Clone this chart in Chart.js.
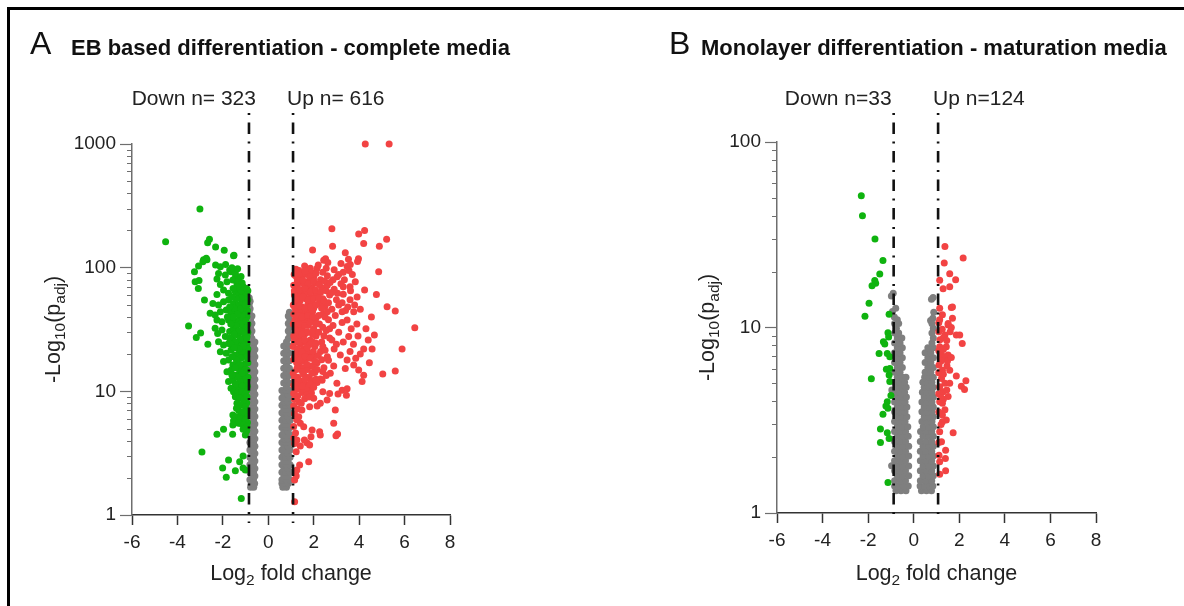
<!DOCTYPE html>
<html>
<head>
<meta charset="utf-8">
<script src="https://cdn.jsdelivr.net/npm/chart.js@4.4.1/dist/chart.umd.min.js"></script>
<style>
  html, body { margin: 0; padding: 0; background: #fff; }
  #wrap { position: relative; width: 1184px; height: 606px; overflow: hidden; }
  #frame { position: absolute; left: 7px; top: 7px; width: 1400px; height: 800px;
           border-top: 3px solid #000; border-left: 3px solid #000; }
  canvas { position: absolute; top: 0; }
  #volcA { left: 0; }
  #volcB { left: 592px; }
</style>
</head>
<body>
<div id="wrap">
  <div id="frame"></div>
  <canvas id="volcA" width="592" height="606"></canvas>
  <canvas id="volcB" width="592" height="606"></canvas>
</div>
<script>
// x ticks and y decades
const xTicks = [-6, -4, -2, 0, 2, 4, 6, 8];
const yMajorA = [1, 10, 100, 1000];
const yMajorB = [1, 10, 100];

// fold-change cut-offs
const cutsA = [-0.85, 1.09];
const cutsB = [-0.88, 1.07];

// EB based differentiation: [log2FC, -log10(padj)]
const downA = [
  [-4.52,162],[-3.01,298],[-2.67,159],[-2.59,170],[-2.32,147],[-1.94,138],[-1.51,126],[-2.73,119],[-2.85,116],
  [-2.70,115.8],[-2.88,111.7],[-3.07,103],[-2.32,104.9],[-2.11,101.8],[-1.88,106.2],[-1.70,95.7],[-2.19,89.9],
  [-1.89,87.1],[-1.53,124.8],[-1.64,92.7],[-1.44,84.5],[-3.25,92.7],[-3.05,78.9],[-3.22,76.9],[-3.08,68],
  [-2.26,80.9],[-2.11,73.2],[-1.82,76.9],[-1.56,79.4],[-1.38,74.6],[-1.23,72.3],[-1.97,65.9],[-1.75,62],
  [-1.45,63.9],[-1.16,68],[-1.31,60.1],[-2.26,60.8],[-1.09,58.2],[-1.01,63.9],[-2.81,54.7],[-2.44,51.4],
  [-2.19,49.9],[-1.97,53.1],[-1.75,54.7],[-1.53,51.4],[-1.31,49.9],[-1.16,53.1],[-1.01,54.7],[-2.56,42.7],
  [-2.34,41.4],[-2.11,44],[-1.85,45.4],[-1.64,42.7],[-1.41,44],[-1.23,41.4],[-1.06,45.4],[-0.94,49.9],
  [-2.26,37.7],[-2.04,36.5],[-1.75,37.7],[-1.53,36.5],[-1.31,37.7],[-1.09,37.7],[-0.94,40.1],[-3.51,33.7],
  [-2.98,29.6],[-3.17,27.2],[-2.66,24],[-2.34,32.3],[-2.23,29.4],[-2.04,31.3],[-1.89,27.7],[-1.70,30.4],
  [-1.53,32.3],[-1.35,28.5],[-1.16,31.3],[-1.01,33.3],[-0.94,27.7],[-2.19,25.2],[-1.97,23.7],[-1.75,24.4],
  [-1.56,26],[-1.38,23],[-1.20,25.2],[-1.06,22.2],[-0.94,24.4],[-2.11,20.9],[-1.85,20.3],[-1.64,21.6],
  [-1.45,19.7],[-1.26,20.3],[-1.09,19.1],[-0.94,20.9],[-1.97,17.4],[-1.75,17.9],[-1.56,16.3],[-1.38,17.4],
  [-1.20,15.8],[-1.01,16.8],[-1.82,14.4],[-1.63,14.9],[-1.45,13.5],[-1.26,14.4],[-1.09,13.1],[-0.94,14.9],
  [-1.75,12],[-1.56,12.3],[-1.38,11.2],[-1.20,11.6],[-1.01,10.9],[-0.94,12.3],[-1.64,10.6],[-1.45,10.3],[-1.16,10.1],
  [-0.9,35],[-0.92,45],[-1.0,42],[-1.12,47],[-0.9,30],[-1.05,29],[-0.98,25],[-1.12,26],[-0.9,22],[-1.02,19.5],
  [-1.15,21],[-0.9,17],[-1.1,16],[-1.05,14],[-0.9,13],[-1.2,13.5],[-1.1,12],[-0.92,11],[-1.3,11],[-1.0,10.5],
  [-0.9,55],[-0.95,58],[-1.05,62],[-0.9,65],[-1.2,65],[-1.1,70],[-1.3,78],[-1.45,90],[-1.2,85],[-1.6,100],[-1.35,98],
  [-0.95,68],[-1.15,75],[-1.35,70],[-1.55,68],[-1.0,50],[-1.2,57],[-1.4,56],[-1.6,58],[-1.25,46],[-1.5,47],
  [-1.7,48],[-1.15,40],[-1.35,42],[-1.55,40],[-1.8,40],[-1.0,37],[-1.22,35],[-1.42,34],[-1.65,35],[-1.1,30],
  [-1.3,31],[-1.5,29],[-1.7,27],[-0.95,27],[-1.25,26.5],[-1.45,25],[-1.65,24],[-1.1,23],[-1.3,22],[-1.5,22.5],
  [-0.95,19],[-1.2,18.5],[-1.4,18],[-1.6,19],[-1.0,15],[-1.25,16.5],[-1.45,15.5],[-1.15,14],[-1.35,13],
  [-1.6,13.5],[-1.0,12.5],[-1.25,12],[-1.45,11.5],[-0.95,10.2],[-1.15,11],[-1.3,10],[-1.05,8.9],[-1.2,9.3],
  [-0.95,8.1],[-1.15,7.8],[-1.3,7],[-1.0,6.5],[-1.2,6.5],[-0.92,5.6],[-1.2,5.5],[-0.95,4.8],
  [-1.53,9.9],[-1.35,9.75],[-1.16,9.9],[-1.01,9.5],[-1.45,9.05],[-1.26,8.8],[-1.09,8.5],[-0.94,9.05],[-1.38,8.0],
  [-1.23,7.76],[-1.01,7.5],[-1.4,7.3],[-0.94,7.06],[-1.11,6.84],[-1.56,6.43],[-1.41,6.24],[-1.23,6.04],[-1.01,5.93],
  [-1.53,5.79],[-1.31,5.51],[-1.09,5.34],[-0.94,5.18],[-1.56,5.34],[-1.11,4.93],[-1.01,4.43],[-1.57,4.49],
  [-1.97,4.93],[-2.26,4.49],[-2.92,3.23],[-1.11,3.0],[-1.75,2.78],[-1.26,2.70],[-2.01,2.40],[-1.11,2.40],
  [-1.01,2.31],[-1.45,2.28],[-1.85,2.02],[-1.19,1.36]
];
const upA = [
  [4.27,1000],[5.32,1000],[2.8,206],[4.24,200],[3.98,187],[5.21,170],[4.2,157],[2.83,149],[4.89,149],[1.95,139],
  [3.39,132],[2.52,118],[3.53,117],[3.97,118],
  [4.86,92.7],[4.76,60.8],[5.23,48.3],[5.59,44.6],[6.45,32.7],[5.89,22],[5.59,14.6],[5.04,13.8],[4.57,22],[4.2,22],
  [4.67,28.5],[4.54,40],[4.24,65.9],[3.83,76.9],[3.93,112],[3.47,102],[3.61,106],[3.3,92],[3.03,84.5],[2.44,115],
  [2.62,110],[2.15,98.7],[1.85,98.7],[1.48,84.5],[1.3,74],[3.91,58],[3.76,44],[3.47,37.7],[3.54,27.7],[3.17,19.7],
  [3.47,17.9],[3.39,15.3],[3.76,16.3],[3.98,14.9],[4.2,13.5],[4.13,12],[2.88,16],[2.73,14],[2.37,12.3],[3.02,11.6],
  [3.25,10.2],[3.47,10.5],
  [3.2,108],[3.55,95],[3.7,88],[3.35,80],[3.62,65],[3.3,70],[3.05,62],[3.6,55],[3.25,52],[3.8,50],[4.05,46],
  [3.4,45],[3.9,35],[3.65,32],[3.25,36],[3.95,28],[3.3,25],[3.75,24],[4.3,32],[4.05,20],[3.6,21],[3.85,18.5],
  [4.45,17],[4.4,26],
  [1.35,95],[1.6,103],[1.9,92],[2.2,105],[2.55,99],[2.9,96],
  [1.2,86],[1.45,82],[1.7,88],[2.0,84],[2.3,80],[2.6,86],[2.85,80],[3.1,88],
  [1.12,72],[1.3,68],[1.55,74],[1.8,70],[2.05,75],[2.35,69],[2.6,72],[2.9,67],[3.2,74],[3.6,70],
  [1.15,60],[1.35,57],[1.6,62],[1.85,58],[2.1,61],[2.4,56],[2.7,60],[3.0,55],[3.3,61],
  [1.1,50],[1.3,52],[1.5,48],[1.75,51],[2.0,47],[2.25,52],[2.5,49],[2.8,46],[3.1,50],[3.5,48],
  [1.12,42],[1.35,44],[1.6,40],[1.85,43],[2.1,39],[2.4,42],[2.65,38],[2.95,41],[3.25,44],
  [1.1,35],[1.3,33],[1.5,36],[1.75,34],[2.0,32],[2.25,35],[2.55,31],[2.85,34],[3.1,30],
  [1.12,28],[1.35,27],[1.6,29],[1.85,26],[2.1,28],[2.35,25],[2.7,27],[3.0,24],
  [1.1,23],[1.3,21],[1.55,22],[1.8,20],[2.05,23],[2.3,21],[2.6,19],[2.9,22],
  [1.12,18],[1.35,16.5],[1.6,17.5],[1.85,16],[2.15,17],[2.45,15.5],[2.65,17.8],
  [1.1,14],[1.3,13],[1.55,13.8],[1.8,12.8],[2.05,14.2],[2.3,12.6],[2.55,13.4],
  [1.12,11.2],[1.35,10.8],[1.6,11.5],[1.9,10.6],[2.15,11.8],
  [1.15,65],[1.2,55],[1.25,47],[1.18,38],[1.22,31],[1.15,25],[1.2,19.5],[1.25,15],[1.17,12.3],[1.4,38],[1.45,30],
  [1.42,24],[1.4,19],[1.45,60],[1.5,42],[1.28,80],[1.22,92],
  [1.22,97],[1.52,90],[1.78,78],[1.25,62],[1.5,66],[1.72,64],[1.95,68],[1.4,54],[1.65,56],[1.9,53],[1.2,44],
  [1.48,46],[1.72,45],[1.95,44],[1.25,38],[1.62,37],[1.88,38],[1.2,31],[1.48,32],[1.7,30],[1.95,29],[1.25,25],
  [1.5,25.5],[1.72,24],[1.95,25],[1.22,20],[1.48,19.5],[1.7,21],[1.95,19],[1.25,17],[1.5,15.5],[1.72,15],
  [1.98,15.8],[1.22,12.8],[1.45,12],[1.7,13],[1.95,12.2],[1.25,10.4],[1.5,10.3],[1.75,11],
  [1.14,88],[1.38,90],[1.62,94],[1.86,85],[2.1,90],[2.4,92],
  [1.28,76],[1.52,79],[1.76,74],[2.0,78],[2.24,73],[2.48,78],[2.72,76],
  [1.16,64],[1.38,66],[1.62,68],[1.86,64],[2.08,66],[2.3,63],[2.55,65],[2.8,63],
  [1.28,55],[1.52,58],[1.76,55],[2.0,56],[2.22,57],[2.45,54],[2.65,52],
  [1.16,48],[1.38,49],[1.62,47],[1.86,48],[2.1,50],[2.35,47],[2.6,44],
  [1.28,41],[1.5,40],[1.74,41],[1.98,40],[2.22,41],[2.5,40],
  [1.16,36],[1.38,35],[1.6,34],[1.84,36],[2.1,35],[2.4,33],[2.7,32],
  [1.28,30],[1.5,29],[1.74,30],[1.98,31],[2.22,30],[2.45,28],
  [1.16,26.5],[1.38,25],[1.6,26],[1.84,24],[2.1,24.5],[2.4,23],[2.8,26],
  [1.28,22],[1.5,21],[1.72,22.5],[1.98,21],[2.2,19.5],[2.5,21.5],
  [1.16,19],[1.38,18],[1.62,19],[1.85,18.5],[2.05,17.5],[2.35,18],
  [1.28,15.5],[1.5,14.5],[1.7,16.5],[1.92,14],[2.15,15],[2.4,14.5],
  [1.16,13],[1.38,12.2],[1.62,12.5],[1.85,11.5],[2.1,12.5],
  [1.28,11.2],[1.5,11],[1.7,10.2],[2.0,10.8],
  [1.16,1.28],[1.26,2.31],[1.23,2.07],[1.16,1.92],[1.19,2.17],[1.38,2.54],[1.78,2.7],[1.23,3.25],[1.41,3.61],
  [1.16,3.79],[1.26,4.04],[1.70,3.84],[1.82,3.68],[1.59,4.04],[1.93,4.86],[2.26,4.71],[2.29,4.43],[1.88,4.3],
  [2.88,5.51],[3.05,4.52],[2.98,4.38],[2.95,7.06],[2.59,8.5],[3.07,9.5],[3.44,9.3],[2.15,7.6],[1.82,7.5],
  [2.29,8.0],[1.41,5.51],[1.56,5.18],[1.34,6.24],[1.48,7.06],
  [1.12,9.6],[1.3,9.2],[1.5,9.8],[1.7,9.4],[1.9,9.7],[1.15,8.6],[1.35,8.2],[1.6,8.7],[1.12,7.6],[1.3,7.2],
  [1.15,6.6],[1.25,5.9],[1.12,5.2],[1.2,4.6],[1.12,4.2],[1.8,9.0],[2.0,8.8],[1.45,8.0],[2.4,9.9],[2.7,9.6]
];
const flatA = [
  [-0.78,1.68],[-0.64,1.68],[0.64,1.68],[0.8,1.68],
  [-0.74,1.8],[-0.6,1.8],[0.6,1.8],[0.74,1.8],[0.88,1.8],
  [-0.81,1.93],[-0.65,1.93],[0.6,1.93],[0.78,1.93],[0.96,1.93],
  [-0.73,2.07],[-0.59,2.07],[0.69,2.07],[0.87,2.07],
  [-0.81,2.22],[-0.65,2.22],[0.6,2.22],[0.78,2.22],[0.96,2.22],
  [-0.73,2.38],[-0.59,2.38],[0.69,2.38],[0.87,2.38],
  [-0.81,2.55],[-0.65,2.55],[0.6,2.55],[0.78,2.55],[0.96,2.55],
  [-0.73,2.73],[-0.59,2.73],[0.69,2.73],[0.87,2.73],
  [-0.81,2.93],[-0.65,2.93],[0.6,2.93],[0.78,2.93],[0.96,2.93],
  [-0.73,3.14],[-0.59,3.14],[0.69,3.14],[0.87,3.14],
  [-0.81,3.36],[-0.65,3.36],[0.6,3.36],[0.78,3.36],[0.96,3.36],
  [-0.73,3.6],[-0.59,3.6],[0.69,3.6],[0.87,3.6],
  [-0.81,3.86],[-0.65,3.86],[0.6,3.86],[0.78,3.86],[0.96,3.86],
  [-0.73,4.14],[-0.59,4.14],[0.69,4.14],[0.87,4.14],
  [-0.81,4.43],[-0.65,4.43],[0.6,4.43],[0.78,4.43],[0.96,4.43],
  [-0.73,4.75],[-0.59,4.75],[0.69,4.75],[0.87,4.75],
  [-0.81,5.09],[-0.65,5.09],[0.6,5.09],[0.78,5.09],[0.96,5.09],
  [-0.73,5.45],[-0.59,5.45],[0.69,5.45],[0.87,5.45],
  [-0.81,5.84],[-0.65,5.84],[0.6,5.84],[0.78,5.84],[0.96,5.84],
  [-0.73,6.26],[-0.59,6.26],[0.69,6.26],[0.87,6.26],
  [-0.81,6.71],[-0.65,6.71],[0.6,6.71],[0.78,6.71],[0.96,6.71],
  [-0.73,7.19],[-0.59,7.19],[0.69,7.19],[0.87,7.19],
  [-0.81,7.7],[-0.65,7.7],[0.6,7.7],[0.78,7.7],[0.96,7.7],
  [-0.73,8.25],[-0.59,8.25],[0.69,8.25],[0.87,8.25],
  [-0.81,8.84],[-0.65,8.84],[0.6,8.84],[0.78,8.84],[0.96,8.84],
  [-0.73,9.47],[-0.59,9.47],[0.69,9.47],[0.87,9.47],
  [-0.81,10.15],[-0.65,10.15],[0.6,10.15],[0.78,10.15],[0.96,10.15],
  [-0.73,10.9],[-0.59,10.9],[0.8,10.9],
  [-0.81,11.7],[-0.65,11.7],[0.68,11.7],[0.93,11.7],
  [-0.73,12.5],[-0.59,12.5],[0.8,12.5],
  [-0.81,13.4],[-0.65,13.4],[0.68,13.4],[0.93,13.4],
  [-0.73,14.4],[-0.59,14.4],[0.8,14.4],
  [-0.81,15.4],[-0.65,15.4],[0.68,15.4],[0.93,15.4],
  [-0.73,16.5],[-0.59,16.5],[0.8,16.5],
  [-0.81,17.7],[-0.65,17.7],[0.68,17.7],[0.93,17.7],
  [-0.73,19.0],[-0.59,19.0],[0.8,19.0],
  [-0.81,20.3],[-0.65,20.3],[0.68,20.3],[0.93,20.3],
  [-0.73,21.8],[-0.59,21.8],[0.8,21.8],
  [-0.81,23.3],[-0.65,23.3],[0.68,23.3],[0.93,23.3],
  [-0.73,25.0],[-0.59,25.0],[0.8,25.0],
  [-0.83,26.8],[-0.72,26.8],[0.88,26.8],
  [-0.78,28.7],[0.95,28.7],
  [-0.83,30.8],[-0.72,30.8],[0.88,30.8],
  [-0.78,33.0],[0.95,33.0],
  [-0.83,35.3],[-0.72,35.3],[0.88,35.3],
  [-0.78,37.9],[0.95,37.9],
  [-0.83,40.6],[-0.72,40.6],[0.88,40.6],
  [-0.84,43.5],[0.93,43.5],
  [-0.8,46.6],[-0.84,50],[-0.8,53.5],[-0.84,57]
];

// Monolayer differentiation: [log2FC, -log10(padj)]
const downB = [
  [-2.30,51.3],[-2.25,40.0],[-1.70,30.0],[-1.35,23.0],[-1.49,19.4],[-1.71,17.9],[-1.67,17.3],[-1.83,16.8],
  [-1.96,13.5],[-2.14,11.5],[-1.08,11.8],[-1.13,9.38],[-1.33,8.38],[-1.27,8.15],[-1.52,7.24],[-1.16,7.24],
  [-1.05,6.95],[-1.20,5.95],[-1.05,6.01],[-1.86,5.30],[-1.08,5.55],[-1.05,5.11],[-1.16,3.98],[-1.22,3.78],
  [-1.13,3.67],[-1.35,3.41],[-1.46,2.84],[-1.16,2.71],[-1.08,2.52],[-1.46,2.40],[-1.13,1.46],[-1.1,8.9],[-1.0,4.3]
];
const upB = [
  [1.37,27.3],[2.17,23.7],[1.34,22.3],[1.58,19.5],[1.84,18.1],[1.14,18.0],[1.58,16.6],[1.29,16.2],[1.70,12.9],
  [1.65,12.8],[1.14,12.7],[1.26,11.7],[1.14,11.0],[1.70,11.2],[1.51,10.3],[1.65,10.0],[1.1,10.6],
  [1.51,10.5],[1.87,9.1],[2.02,9.1],[1.37,9.1],[2.13,8.2],[1.14,7.87],[1.43,7.87],[1.51,7.1],[1.22,7.1],
  [1.37,6.95],[1.11,6.27],[1.46,6.2],[1.26,5.89],[1.58,5.89],[1.87,5.47],[2.29,5.16],[2.09,4.83],[2.23,4.63],
  [1.22,5.31],[1.37,5.0],[1.58,5.0],[1.14,4.8],[1.29,4.51],[1.51,4.24],[1.14,3.98],[1.26,3.9],[1.37,3.6],
  [1.26,3.37],[1.43,3.17],[1.26,3.1],[1.73,2.71],[1.14,2.74],[1.22,2.42],[1.40,2.18],[1.11,2.05],[1.39,1.97],
  [1.14,1.89],[1.40,1.69],[1.14,1.62],
  [1.1,9.5],[1.15,8.6],[1.1,7.5],[1.2,6.6],[1.1,5.7],[1.3,5.6],[1.1,4.4],[1.3,4.1],[1.1,3.5],[1.2,3.0],[1.1,2.4],
  [1.25,9.8],[1.3,8.8],[1.45,8.5],[1.6,9.5],[1.3,7.6],[1.48,6.6],[1.65,6.9],[1.2,4.2],[1.45,4.6]
];
const flatB = [
  [-0.9,15.3],[-0.98,14.8],[-0.79,12.7],[-0.93,12.2],[-0.85,11.4],[-0.72,11],[0.85,14.5],[0.78,14.2],
  [0.88,12.1],[0.84,11.2],[0.74,10.9],[-0.97,1.8],[-0.96,4.6],
  [-0.78,1.32],[-0.56,1.32],[-0.34,1.32],[0.34,1.32],[0.56,1.32],[0.78,1.32],
  [-0.84,1.40],[-0.66,1.40],[-0.45,1.40],[-0.24,1.40],[0.28,1.40],[0.48,1.40],[0.68,1.40],[0.84,1.40],
  [-0.84,1.49],[-0.59,1.49],[-0.36,1.49],[0.29,1.49],[0.54,1.49],[0.79,1.49],
  [-0.72,1.59],[-0.48,1.59],[-0.22,1.59],[0.41,1.59],[0.66,1.59],[0.86,1.59],
  [-0.84,1.69],[-0.59,1.69],[-0.36,1.69],[0.29,1.69],[0.54,1.69],[0.79,1.69],
  [-0.72,1.79],[-0.48,1.79],[-0.22,1.79],[0.41,1.79],[0.66,1.79],[0.86,1.79],
  [-0.84,1.91],[-0.59,1.91],[-0.36,1.91],[0.29,1.91],[0.54,1.91],[0.79,1.91],
  [-0.72,2.03],[-0.48,2.03],[-0.22,2.03],[0.41,2.03],[0.66,2.03],[0.86,2.03],
  [-0.84,2.15],[-0.59,2.15],[-0.36,2.15],[0.29,2.15],[0.54,2.15],[0.79,2.15],
  [-0.72,2.29],[-0.48,2.29],[-0.22,2.29],[0.41,2.29],[0.66,2.29],[0.86,2.29],
  [-0.84,2.43],[-0.59,2.43],[-0.36,2.43],[0.29,2.43],[0.54,2.43],[0.79,2.43],
  [-0.72,2.59],[-0.48,2.59],[-0.24,2.59],[0.41,2.59],[0.66,2.59],[0.86,2.59],
  [-0.84,2.75],[-0.59,2.75],[-0.36,2.75],[0.3,2.75],[0.54,2.75],[0.79,2.75],
  [-0.72,2.92],[-0.48,2.92],[-0.26,2.92],[0.42,2.92],[0.66,2.92],[0.86,2.92],
  [-0.84,3.11],[-0.6,3.11],[-0.38,3.11],[0.36,3.11],[0.58,3.11],[0.8,3.11],
  [-0.72,3.3],[-0.5,3.3],[-0.3,3.3],[0.46,3.3],[0.68,3.3],[0.86,3.3],
  [-0.84,3.51],[-0.6,3.51],[-0.38,3.51],[0.36,3.51],[0.58,3.51],[0.8,3.51],
  [-0.72,3.73],[-0.5,3.73],[-0.3,3.73],[0.46,3.73],[0.68,3.73],[0.86,3.73],
  [-0.84,3.97],[-0.6,3.97],[-0.38,3.97],[0.36,3.97],[0.58,3.97],[0.8,3.97],
  [-0.72,4.22],[-0.5,4.22],[-0.32,4.22],[0.46,4.22],[0.68,4.22],[0.86,4.22],
  [-0.84,4.48],[-0.6,4.48],[-0.4,4.48],[0.38,4.48],[0.58,4.48],[0.8,4.48],
  [-0.72,4.77],[-0.5,4.77],[-0.33,4.77],[0.46,4.77],[0.68,4.77],[0.86,4.77],
  [-0.84,5.07],[-0.6,5.07],[-0.4,5.07],[0.4,5.07],[0.6,5.07],[0.8,5.07],
  [-0.72,5.39],[-0.5,5.39],[-0.34,5.39],[0.48,5.39],[0.68,5.39],[0.86,5.39],
  [-0.84,5.73],[-0.6,5.73],[0.5,5.73],[0.75,5.73],
  [-0.72,6.09],[-0.5,6.09],[0.62,6.09],[0.86,6.09],
  [-0.84,6.47],[-0.6,6.47],[0.5,6.47],[0.75,6.47],
  [-0.72,6.88],[-0.5,6.88],[0.62,6.88],[0.86,6.88],
  [-0.84,7.31],[-0.6,7.31],[0.5,7.31],[0.75,7.31],
  [-0.72,7.77],[-0.5,7.77],[0.62,7.77],[0.86,7.77],
  [-0.84,8.26],[-0.6,8.26],[0.8,8.26],
  [-0.72,8.78],[-0.52,8.78],[0.86,8.78],
  [-0.84,9.33],[-0.66,9.33],[0.8,9.33],
  [-0.76,9.92],[0.86,9.92],
  [-0.84,10.5],[-0.66,10.5],[0.8,10.5]
];

const FONT = '"Liberation Sans", Arial, Helvetica, sans-serif';
const GREEN = '#0fb30f';
const RED = '#f24343';
const GREY = '#7f7f7f';
Chart.defaults.font.family = FONT;

// text made of plain and subscript runs, laid out left to right from x
function drawRuns(ctx, parts, x, y, size, center) {
  const sub = size * 0.72;
  let w = 0;
  parts.forEach(p => { ctx.font = (p.sub ? sub : size) + 'px ' + FONT; w += ctx.measureText(p.t).width; });
  let cx = center ? x - w / 2 : x;
  ctx.textAlign = 'left';
  ctx.textBaseline = 'alphabetic';
  parts.forEach(p => {
    ctx.font = (p.sub ? sub : size) + 'px ' + FONT;
    ctx.fillText(p.t, cx, p.sub ? y + size * 0.24 : y);
    cx += ctx.measureText(p.t).width;
  });
}

const volcanoDecor = {
  id: 'volcanoDecor',
  afterDatasetsDraw(chart, args, o) {
    const {ctx, chartArea: a, scales: {x}} = chart;
    ctx.save();
    ctx.strokeStyle = '#111';
    ctx.lineWidth = 2.6;
    ctx.setLineDash([2, 7.5, 11.5, 7.5]);
    o.cuts.forEach(c => {
      const px = x.getPixelForValue(c);
      ctx.beginPath();
      ctx.moveTo(px, a.top - o.lineRise);
      ctx.lineTo(px, a.bottom + 8);
      ctx.stroke();
    });
    ctx.setLineDash([]);
    ctx.fillStyle = '#222';
    ctx.font = '21px ' + FONT;
    ctx.textBaseline = 'alphabetic';
    ctx.textAlign = 'right';
    ctx.fillText(o.downText, x.getPixelForValue(o.cuts[0]) + o.downDx, o.countY);
    ctx.textAlign = 'left';
    ctx.fillText(o.upText, x.getPixelForValue(o.cuts[1]) + o.upDx, o.countY);
    ctx.restore();
  },
  afterDraw(chart, args, o) {
    const {ctx, chartArea: a, scales: {y}} = chart;
    ctx.save();
    // minor ticks on the log axis
    ctx.strokeStyle = '#6e6e6e';
    ctx.lineWidth = 1;
    y.ticks.forEach(t => {
      if (o.yMajor.includes(t.value)) return;
      const py = Math.round(y.getPixelForValue(t.value)) + 0.5;
      ctx.beginPath();
      ctx.moveTo(a.left - 5, py);
      ctx.lineTo(a.left, py);
      ctx.stroke();
    });
    // panel letter and heading
    ctx.fillStyle = '#111';
    ctx.textBaseline = 'alphabetic';
    ctx.textAlign = 'left';
    ctx.font = '32px ' + FONT;
    ctx.fillText(o.letter, o.letterX, 53.5);
    ctx.font = 'bold 22px ' + FONT;
    ctx.fillText(o.heading, o.headingX, 55);
    // axis titles
    ctx.fillStyle = '#222';
    drawRuns(ctx, [{t: 'Log'}, {t: '2', sub: true}, {t: ' fold change'}], (a.left + a.right) / 2, 580, 21.5, true);
    ctx.translate(o.yTitleX, (a.top + a.bottom) / 2);
    ctx.rotate(-Math.PI / 2);
    drawRuns(ctx, [{t: '-Log'}, {t: '10', sub: true}, {t: '(p'}, {t: 'adj', sub: true}, {t: ')'}], 0, 0, 21.5, true);
    ctx.restore();
  }
};

function logTicks(major) {
  const out = [];
  for (let i = 0; i < major.length - 1; i++) {
    for (let m = 1; m < 10; m++) out.push(major[i] * m);
  }
  out.push(major[major.length - 1]);
  return out;
}

function toXY(list) {
  return list.map(([x, y]) => ({x, y}));
}

function volcano(id, o) {
  return new Chart(document.getElementById(id), {
    type: 'scatter',
    data: {
      datasets: [
        {label: 'Down', data: toXY(o.down), backgroundColor: GREEN, clip: false},
        {label: 'Up', data: toXY(o.up), backgroundColor: RED, clip: false},
        {label: 'NS', data: toXY(o.flat), backgroundColor: GREY, clip: false}
      ]
    },
    options: {
      responsive: false,
      animation: false,
      events: [],
      devicePixelRatio: 1,
      layout: {padding: {top: o.top, right: o.right, left: 0, bottom: 0}},
      elements: {point: {radius: 3.5, borderWidth: 0, hoverRadius: 0}},
      plugins: {
        legend: {display: false},
        tooltip: {enabled: false},
        volcanoDecor: o.decor
      },
      scales: {
        x: {
          type: 'linear', min: -6, max: 8,
          afterBuildTicks: s => { s.ticks = xTicks.map(v => ({value: v})); },
          afterFit: s => { s.height = o.xAxisH; },
          grid: {drawOnChartArea: false, tickLength: 10, tickColor: '#333', tickWidth: 1.5},
          border: {color: '#333', width: 1.5},
          ticks: {color: '#222', font: {size: 19}, padding: 6, maxRotation: 0, autoSkip: false}
        },
        y: {
          type: 'logarithmic', min: 1, max: o.yMajor[o.yMajor.length - 1],
          afterBuildTicks: s => { s.ticks = logTicks(o.yMajor).map(v => ({value: v})); },
          afterFit: s => { s.width = o.yAxisW; },
          grid: {
            drawOnChartArea: false, tickLength: 12, tickWidth: 1.2,
            tickColor: c => (c.tick && o.yMajor.includes(c.tick.value)) ? '#6e6e6e' : 'rgba(0,0,0,0)'
          },
          border: {color: '#6e6e6e', width: 1.5},
          ticks: {
            color: '#222', font: {size: 19}, padding: 4, autoSkip: false,
            callback: v => o.yMajor.includes(v) ? String(v) : ''
          }
        }
      }
    },
    plugins: [volcanoDecor]
  });
}

volcano('volcA', {
  down: downA, up: upA, flat: flatA, yMajor: yMajorA,
  top: 144, right: 142, yAxisW: 132, xAxisH: 91,
  decor: {
    cuts: cutsA, yMajor: yMajorA, lineRise: 31, countY: 105,
    downText: 'Down n= 323', upText: 'Up n= 616', downDx: 7, upDx: -6,
    letter: 'A', letterX: 30, heading: 'EB based differentiation - complete media', headingX: 71,
    yTitleX: 60
  }
});

volcano('volcB', {
  down: downB, up: upB, flat: flatB, yMajor: yMajorB,
  top: 142, right: 88, yAxisW: 185, xAxisH: 93,
  decor: {
    cuts: cutsB, yMajor: yMajorB, lineRise: 29, countY: 105,
    downText: 'Down n=33', upText: 'Up n=124', downDx: -2, upDx: -5,
    letter: 'B', letterX: 77, heading: 'Monolayer differentiation - maturation media', headingX: 109,
    yTitleX: 122
  }
});
</script>
</body>
</html>
